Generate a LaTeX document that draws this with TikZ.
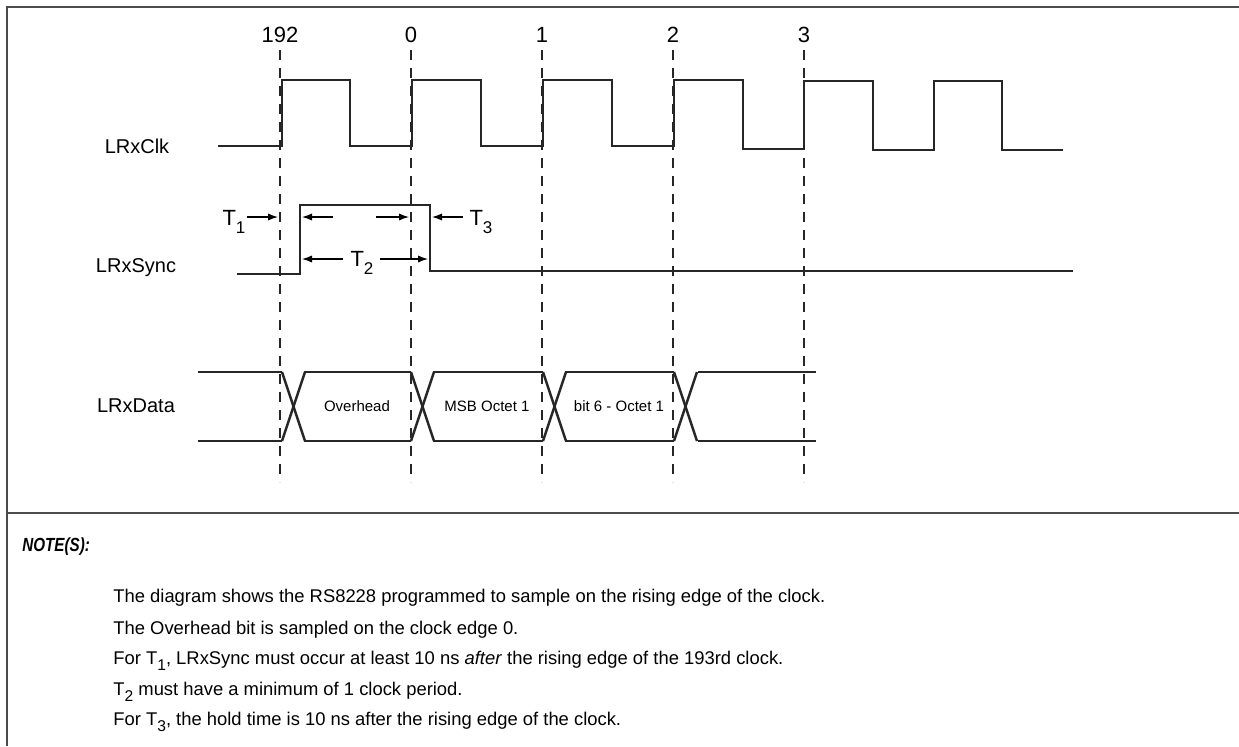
\documentclass[tikz,border=0pt]{standalone}
\usepackage{fontspec}
\setmainfont{Liberation Sans}
\newfontfamily\noteheadfont[FakeStretch=0.8]{Liberation Sans}
\usetikzlibrary{arrows.meta}
\newcommand{\lowidx}[1]{\raisebox{-0.7ex}{\fontsize{8.5}{9}\selectfont #1}}
\newcommand{\noteidx}[1]{\raisebox{-0.6ex}{\fontsize{7.8}{8}\selectfont #1}}

\begin{document}
\begin{tikzpicture}[x=0.5pt, y=-0.5pt,
    wave/.style={line width=1.25pt, black!85},
    clkedge/.style={line width=1.4pt, black!85, dash pattern=on 5pt off 4pt},
    frame/.style={line width=0.8pt, black!70},
    tarrow/.style={line width=0.6pt, -{Latex[length=5pt,width=3.6pt]}},
    signame/.style={font=\fontsize{10}{12}\selectfont},
    tname/.style={font=\fontsize{11}{13}\selectfont, inner sep=1pt},
    edgenum/.style={font=\fontsize{11}{13}\selectfont},
    datalbl/.style={font=\fontsize{7.5}{9}\selectfont},
    notetext/.style={anchor=west, font=\fontsize{9.2}{11}\selectfont, inner sep=0pt}]
    \useasboundingbox (0,0) rectangle (1239,746);

    % Frame
    \draw [frame] (7,746) -- (7,7) -- (1239,7);
    \draw [frame] (7,513) -- (1239,513);

    % Clock edges
    \foreach \x/\num in {280/192, 411/0, 542/1, 673/2, 804/3} {
        \node [edgenum] (num\num) at (\x,35) {\num};
        \draw [clkedge] (\x,50) -- (\x,482);
    }

    % Signal names
    \node [signame] (clk) at (137,146) {LRxClk};
    \node [signame] (sync) at (136,268) {LRxSync};
    \node [signame] (data) at (136,406) {LRxData};

    % LRxClk
    \draw [wave] (218,146) -- (282,146) -- (282,80) -- (350,80) -- (350,146)
        -- (412,146) -- (412,80) -- (481,80) -- (481,146)
        -- (543,146) -- (543,80) -- (612,80) -- (612,146)
        -- (674,146) -- (674,80) -- (743,80) -- (743,149)
        -- (804,149) -- (804,81) -- (873,81) -- (873,150)
        -- (934,150) -- (934,81) -- (1002,81) -- (1002,150) -- (1063,150);

    % LRxSync
    \draw [wave] (237,274) -- (300,274) -- (300,205) -- (430,205) -- (430,271) -- (1073,271);

    % LRxData
    \foreach \a/\b in {198/282, 304/411, 433/543, 565/674, 698/816} {
        \draw [wave] (\a,372) -- (\b,372);
        \draw [wave] (\a,441) -- (\b,441);
    }
    \foreach \c in {282, 411, 543, 674} {
        \draw [wave] (\c,372) -- ({\c+23},441);
        \draw [wave] (\c,441) -- ({\c+23},372);
    }
    \node [datalbl] (ovh) at (357,406) {Overhead};
    \node [datalbl] (msb) at (487,406) {MSB Octet 1};
    \node [datalbl] (bit6) at (619,406) {bit 6 - Octet 1};

    % Timing
    \node [tname] (t1) at (234,222) {T\lowidx{1}};
    \node [tname] (t2) at (362,263) {T\lowidx{2}};
    \node [tname] (t3) at (481,222) {T\lowidx{3}};
    \draw [tarrow] (247,217) -- (278,217);
    \draw [tarrow] (333,217) -- (302,217);
    \draw [tarrow] (376,217) -- (409,217);
    \draw [tarrow] (463,217) -- (432,217);
    \draw [tarrow] (343,259) -- (302,259);
    \draw [tarrow] (380,259) -- (428,259);

    % Notes
    \node [anchor=west, inner sep=0pt, font=\noteheadfont\fontsize{9.5}{11}\selectfont\bfseries\itshape] (notes) at (22,547) {NOTE(S):};
    \node [notetext] (n1) at (113,598) {The diagram shows the RS8228 programmed to sample on the rising edge of the clock.};
    \node [notetext] (n2) at (113,630) {The Overhead bit is sampled on the clock edge 0.};
    \node [notetext] (n3) at (113,661) {For T\noteidx{1}, LRxSync must occur at least 10 ns \textit{after} the rising edge of the 193rd clock.};
    \node [notetext] (n4) at (113,692) {T\noteidx{2} must have a minimum of 1 clock period.};
    \node [notetext] (n5) at (113,722) {For T\noteidx{3}, the hold time is 10 ns after the rising edge of the clock.};
\end{tikzpicture}
\end{document}
